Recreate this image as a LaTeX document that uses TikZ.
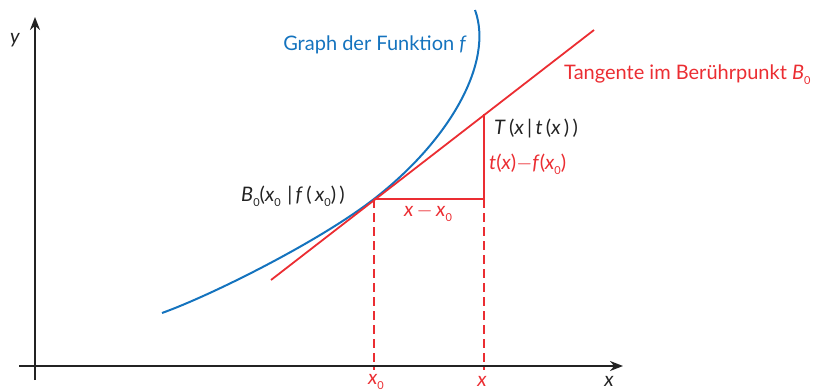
\documentclass[tikz,border=0pt]{standalone}
\usepackage{fontspec}
\setmainfont{Lato}
\usetikzlibrary{arrows.meta}
\definecolor{fblue}{RGB}{20,115,190}
\definecolor{tred}{RGB}{235,45,50}
\definecolor{axisc}{RGB}{35,35,35}
\newcommand{\lowsub}[1]{\raisebox{-0.5ex}{\fontsize{11}{11}\selectfont #1}}
\begin{document}
\begin{tikzpicture}[x=1pt,y=-1pt,
  lbl/.style={font=\fontsize{20}{24}\selectfont, inner sep=0pt},
  axisline/.style={draw=axisc, line width=2.4pt, -{Stealth[length=13pt,width=10pt]}},
  tline/.style={draw=tred, line width=1.8pt},
  dline/.style={draw=tred, line width=1.8pt, dash pattern=on 9pt off 5pt},
  fline/.style={draw=fblue, line width=2pt}]
\useasboundingbox (0,0) rectangle (819,391);
% axes
\coordinate (xs) at (19,366);
\coordinate (xe) at (623,366);
\coordinate (ys) at (35,380);
\coordinate (ye) at (35,17);
\draw[axisline] (xs) -- (xe);
\draw[axisline] (ys) -- (ye);
\node[lbl, text=axisc] (xl) at (609,381) {\textit{x}};
\node[lbl, text=axisc] (yl) at (15,40) {\textit{y}};
% points
\coordinate (B) at (374,199);
\coordinate (T) at (484,114);
\coordinate (C) at (484,199);
\coordinate (ts) at (271,280);
\coordinate (te) at (594,30);
\coordinate (bx0) at (374,370);
\coordinate (bx) at (484,370);
\coordinate (fs) at (162,313);
\coordinate (fe) at (475,10);
% graph of f
\draw[fline] (fs) .. controls (212,295) and (319,241.6) .. (B)
  .. controls (450,140) and (494,62) .. (fe);
% tangent
\draw[tline] (ts) -- (te);
\draw[tline] (B) -- (C) -- (T);
\draw[dline] (B) -- (bx0);
\draw[dline] (C) -- (bx);
% labels
\node[lbl, text=fblue] (gl) at (375,45) {Graph der Funktion \textit{f}};
\node[lbl, text=tred, anchor=west] (tl) at (564,75) {Tangente im Berührpunkt \textit{B}\lowsub{0}};
\node[lbl, text=axisc, anchor=west] (Tl) at (494,128) {\textit{T}\,(\textit{x}\,|\,\textit{t}\,(\textit{x}\,)\,)};
\node[lbl, text=tred, anchor=west] (dl) at (489,164) {\textit{t}(\textit{x})$-$\textit{f}(\textit{x}\lowsub{0})};
\node[lbl, text=axisc, anchor=east] (Bl) at (345,196) {\textit{B}\lowsub{0}(\textit{x}\lowsub{0}\,\,|\,\textit{f}\,(\,\textit{x}\lowsub{0})\,)};
\node[lbl, text=tred] (hl) at (428,213) {\textit{x}\,$-$\,\textit{x}\lowsub{0}};
\node[lbl, text=tred] (x0l) at (376,382) {\textit{x}\lowsub{0}};
\node[lbl, text=tred] (xxl) at (482,381) {\textit{x}};
\end{tikzpicture}
\end{document}
